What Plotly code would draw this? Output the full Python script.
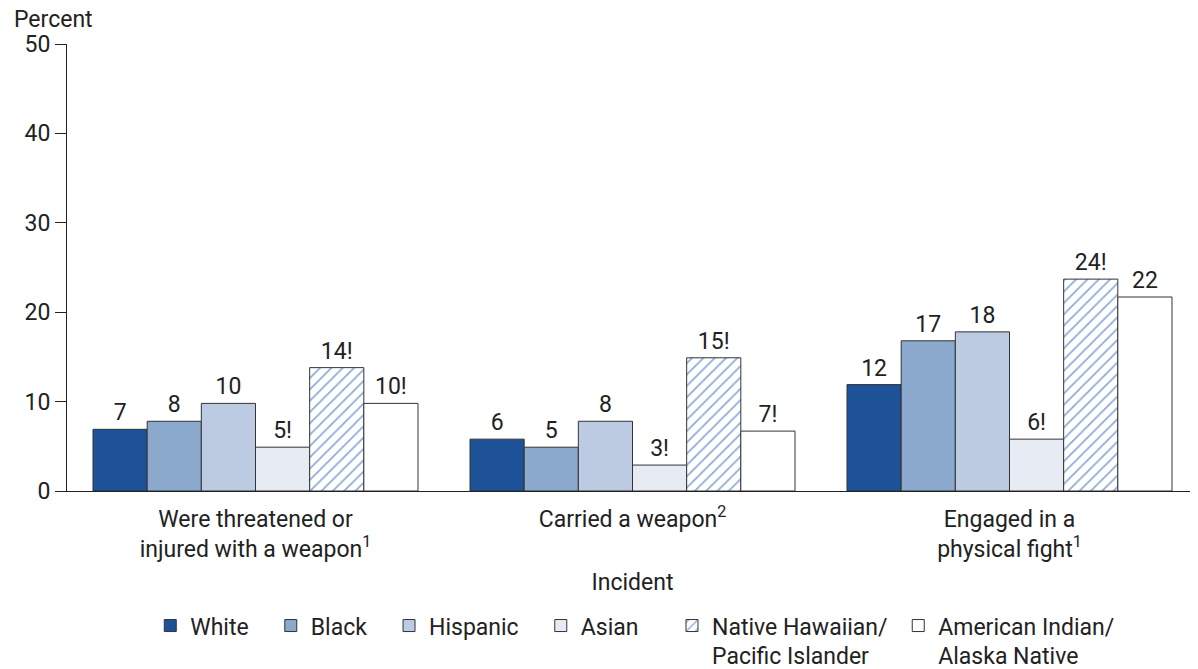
import plotly.graph_objects as go

categories = ["Were threatened or<br>injured with a weapon<sup>1</sup>",
              "Carried a weapon<sup>2</sup>",
              "Engaged in a<br>physical fight<sup>1</sup>"]
series_names = ["White", "Black", "Hispanic", "Asian",
                "Native Hawaiian/<br>Pacific Islander", "American Indian/<br>Alaska Native"]
white = [6.9, 5.8, 11.9]
black = [7.8, 4.9, 16.8]
hispanic = [9.8, 7.8, 17.8]
asian = [4.9, 2.9, 5.8]
nhpi = [13.8, 14.9, 23.7]
aian = [9.8, 6.7, 21.7]
white_lbl = ["7", "6", "12"]
black_lbl = ["8", "5", "17"]
hispanic_lbl = ["10", "8", "18"]
asian_lbl = ["5!", "3!", "6!"]
nhpi_lbl = ["14!", "15!", "24!"]
aian_lbl = ["10!", "7!", "22"]

values = [white, black, hispanic, asian, nhpi, aian]
labels = [white_lbl, black_lbl, hispanic_lbl, asian_lbl, nhpi_lbl, aian_lbl]
fills = ["#1d5299", "#8ba8cd", "#bccae2", "#e7ecf4", "#ffffff", "#ffffff"]

NB = "\u00a0"
pads = [3, 3, 3, 5, 1, 0]

FONT = "Roboto"
FS = 23
fig = go.Figure()
for i, (name, vals, lbl, col) in enumerate(zip(series_names, values, labels, fills)):
    marker = dict(color=col, line=dict(color="#333333", width=1))
    if i == 4:
        marker["pattern"] = dict(shape="/", fgcolor="#1a56b0", bgcolor="#ffffff",
                                 size=8, solidity=0.22, fillmode="overlay")
    if "<br>" in name:
        first, second = name.split("<br>")
        legend_name = first + NB * pads[i] + "<br>" + second
    else:
        legend_name = name + NB * pads[i]
    fig.add_trace(go.Bar(
        x=categories, y=vals, name=legend_name, marker=marker,
        text=lbl, textposition="outside",
        textfont=dict(size=FS, color="#222222", family=FONT),
        cliponaxis=False,
    ))

# page body has an 8px margin; compensate so the chart lands where the reference is
fig.update_layout(
    width=1190, height=661,
    barmode="group", bargap=0.138, bargroupgap=0,
    plot_bgcolor="white", paper_bgcolor="white",
    margin=dict(l=59, r=0, t=36, b=178, autoexpand=False),
    font=dict(family=FONT, size=FS, color="#222222"),
    showlegend=True,
    legend=dict(orientation="h", x=0.502, xanchor="center", y=-0.253, yanchor="top",
                font=dict(size=FS, family=FONT, color="#222222"),
                traceorder="normal", itemwidth=30, valign="top"),
    xaxis=dict(showline=True, linecolor="#222222", linewidth=1, ticks="",
               tickfont=dict(size=FS), automargin=False, ticklabelstandoff=7,
               title=dict(text="Incident", font=dict(size=FS), standoff=12),
               showgrid=False),
    yaxis=dict(range=[0, 50], tickvals=[0, 10, 20, 30, 40, 50], showline=True,
               linecolor="#222222", linewidth=1, ticks="outside", ticklen=11,
               tickcolor="#222222", tickfont=dict(size=FS), showgrid=False,
               zeroline=False, automargin=False),
    annotations=[dict(text="Percent", xref="paper", yref="paper", x=-0.049, y=1.0,
                      xanchor="left", yanchor="bottom", yshift=9, showarrow=False,
                      font=dict(size=FS, family=FONT, color="#222222"))],
)
fig.write_html("out.html")
